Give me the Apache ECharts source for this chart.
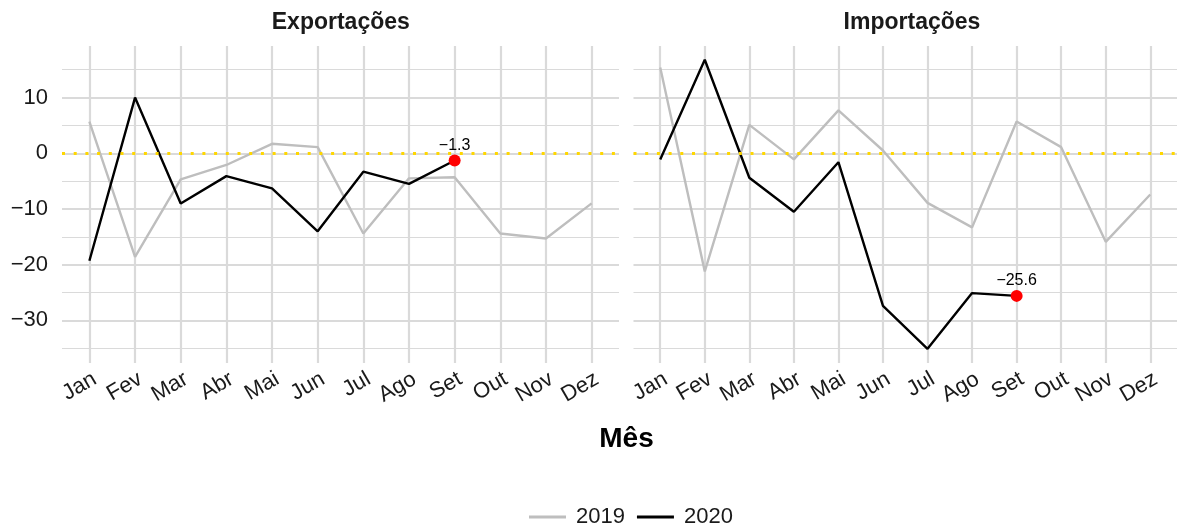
<!DOCTYPE html>
<html lang="pt">
<head>
<meta charset="UTF-8">
<title>Exportações e Importações</title>
<script src="https://cdn.jsdelivr.net/npm/echarts@6/dist/echarts.min.js"></script>
<style>
  html, body { margin: 0; padding: 0; background: #fff; }
  #main { width: 1177px; height: 527px; }
</style>
</head>
<body>
<div id="main"></div>
<script>
var months = ['Jan', 'Fev', 'Mar', 'Abr', 'Mai', 'Jun', 'Jul', 'Ago', 'Set', 'Out', 'Nov', 'Dez'];
var exp2019 = [5.7, -18.6, -4.7, -2.1, 1.7, 1.1, -14.4, -4.5, -4.3, -14.4, -15.3, -9.0];
var exp2020 = [-19.3, 10.0, -9.0, -4.1, -6.3, -14.0, -3.3, -5.5, -1.3];
var imp2019 = [15.4, -21.2, 5.1, -1.1, 7.7, 0.5, -8.9, -13.3, 5.7, 1.1, -15.9, -7.4];
var imp2020 = [-1.1, 16.8, -4.4, -10.5, -1.6, -27.4, -35.1, -25.1, -25.6];
var panels = ['Exportações', 'Importações'];

var font = 'Liberation Sans, Arial, sans-serif';
var gridCol = '#dadada';

function minus(v) {
  return v < 0 ? '\u2212' + Math.abs(v) : String(v);
}
function pairs(arr) {
  return arr.map(function (v, i) { return [i, v]; });
}
function lastPoint(arr) {
  return [[arr.length - 1, arr[arr.length - 1]]];
}

var grids = [
  { left: 62, top: 46, width: 557, height: 317 },
  { left: 633.5, top: 46, width: 558, height: 317 }
];

function xAxisFor(i) {
  return {
    type: 'value', gridIndex: i, min: -0.6, max: 11.6, splitNumber: 12,
    axisLine: { show: false }, axisTick: { show: false },
    axisLabel: {
      rotate: 30, verticalAlign: 'top', margin: 5,
      fontFamily: font, fontSize: 22, color: '#1a1a1a',
      showMinLabel: false, showMaxLabel: false,
      formatter: function (v) { return Number.isInteger(v) ? months[v] : ''; }
    },
    splitLine: { show: true, showMinLine: false, showMaxLine: false,
      lineStyle: { color: gridCol, width: 2.2 } }
  };
}
function yAxisFor(i) {
  return {
    type: 'value', gridIndex: i, min: -37.65, max: 19.26,
    axisLine: { show: false }, axisTick: { show: false },
    axisLabel: {
      show: i === 0, margin: 14,
      fontFamily: font, fontSize: 22, color: '#1a1a1a',
      showMinLabel: false, showMaxLabel: false,
      formatter: function (v) { return minus(v); }
    },
    splitLine: { show: true, showMinLine: false, showMaxLine: false,
      lineStyle: { color: gridCol, width: 2.2 } },
    minorTick: { show: false, splitNumber: 2 },
    minorSplitLine: { show: true, lineStyle: { color: gridCol, width: 1.1 } }
  };
}

var series = [];
[[exp2019, exp2020], [imp2019, imp2020]].forEach(function (d, i) {
  series.push({
    name: '2019', type: 'line', xAxisIndex: i, yAxisIndex: i,
    data: pairs(d[0]), symbol: 'none', z: 2,
    lineStyle: { color: '#bebebe', width: 2.4 }, itemStyle: { color: '#bebebe' },
    markLine: {
      silent: true, symbol: 'none', label: { show: false },
      lineStyle: { color: '#ffd700', width: 3, type: [3, 8.7] },
      data: [{ yAxis: 0 }]
    }
  });
  series.push({
    name: '2020', type: 'line', xAxisIndex: i, yAxisIndex: i,
    data: pairs(d[1]), symbol: 'none', z: 3,
    lineStyle: { color: '#000', width: 2.4 }, itemStyle: { color: '#000' }
  });
  series.push({
    type: 'scatter', xAxisIndex: i, yAxisIndex: i, z: 4,
    data: lastPoint(d[1]), symbolSize: 12,
    itemStyle: { color: '#ff0000', opacity: 1 },
    label: {
      show: true, position: 'top', distance: 1,
      fontFamily: font, fontSize: 16, color: '#000',
      formatter: function (p) { return minus(p.value[1]); }
    }
  });
});

var chart = echarts.init(document.getElementById('main'));
chart.setOption({
  backgroundColor: '#fff',
  animation: false,
  grid: grids,
  xAxis: [xAxisFor(0), xAxisFor(1)],
  yAxis: [yAxisFor(0), yAxisFor(1)],
  series: series,
  legend: {
    data: ['2019', '2020'], left: 529, top: 506, padding: 0,
    icon: 'rect', itemWidth: 37, itemHeight: 3, itemGap: 12,
    textStyle: { fontFamily: font, fontSize: 22, color: '#1a1a1a', padding: [0, 0, 0, 5] }
  },
  graphic: [
    { type: 'text', x: 340.8, y: 23, style: { text: panels[0], font: 'bold 23px ' + font,
      fill: '#1a1a1a', textAlign: 'center', textVerticalAlign: 'middle' } },
    { type: 'text', x: 912, y: 23, style: { text: panels[1], font: 'bold 23px ' + font,
      fill: '#1a1a1a', textAlign: 'center', textVerticalAlign: 'middle' } },
    { type: 'text', x: 626.5, y: 439, style: { text: 'Mês', font: 'bold 28px ' + font,
      fill: '#000', textAlign: 'center', textVerticalAlign: 'middle' } }
  ]
});
</script>
</body>
</html>
